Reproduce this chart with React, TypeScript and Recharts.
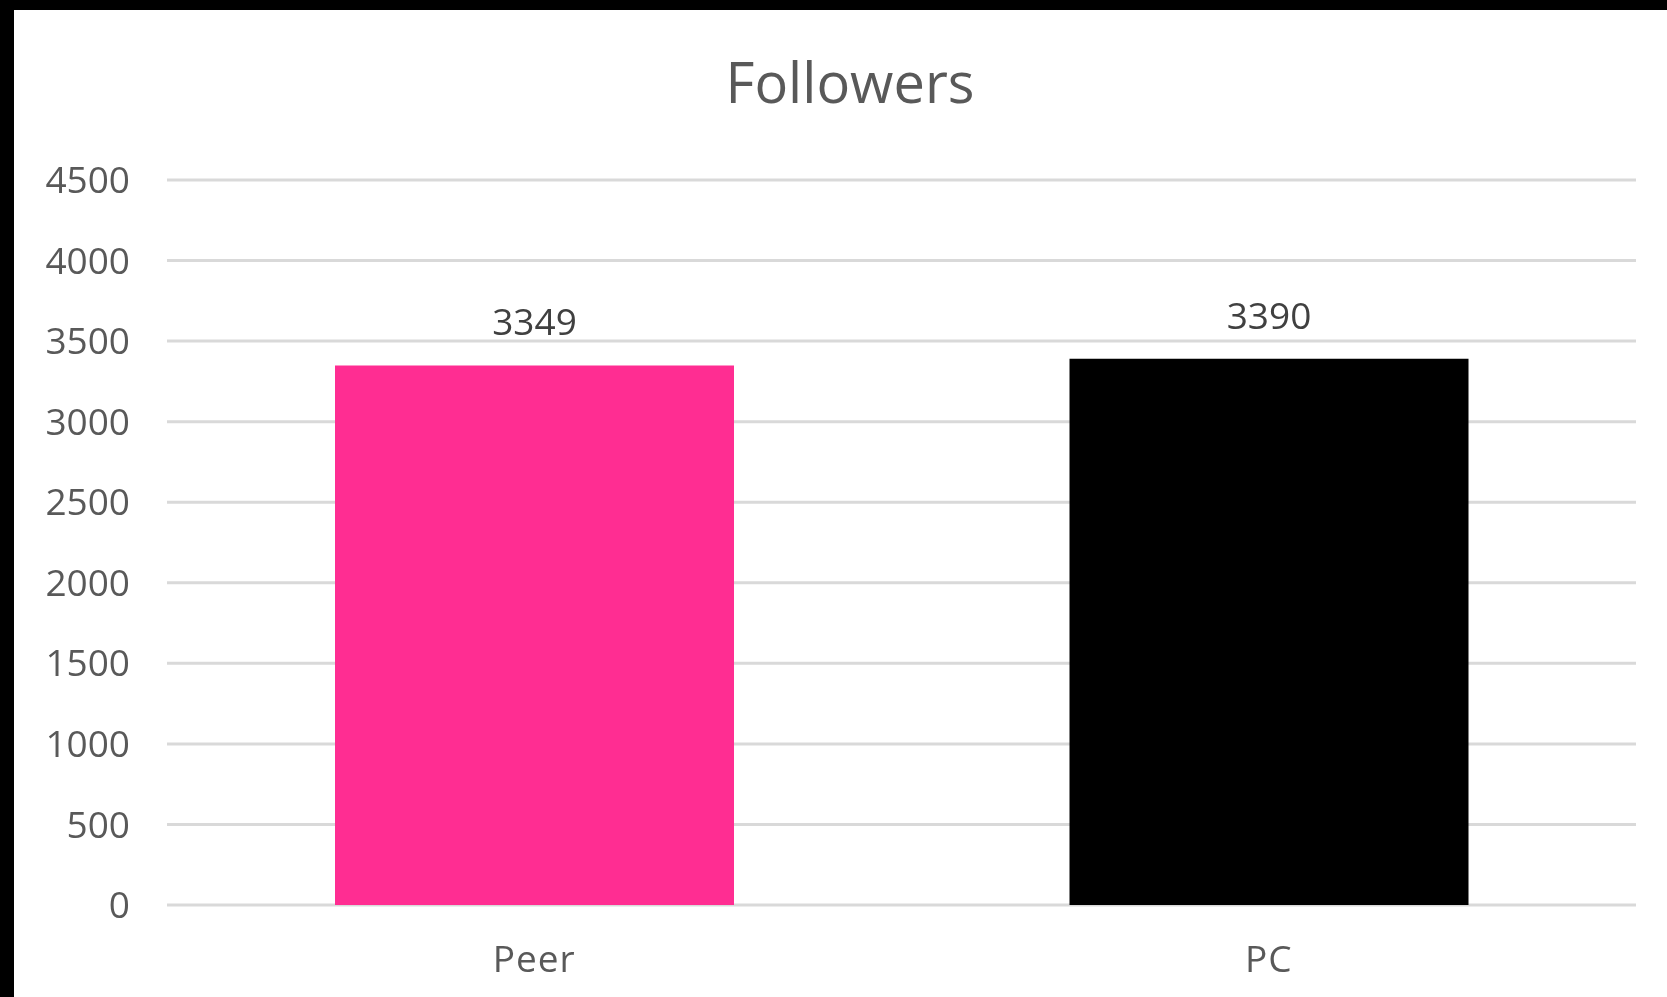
import React from 'react';
import { BarChart, Bar, XAxis, YAxis, CartesianGrid, Cell, LabelList } from 'recharts';

const categories = ['Peer', 'PC'];
const followers = [3349, 3390];
const barColors = ['#FF2D92', '#000000'];
const yTicks = [0, 500, 1000, 1500, 2000, 2500, 3000, 3500, 4000, 4500];

const data = categories.map((name, i) => ({ name, followers: followers[i] }));

const FONT = '"Open Sans", sans-serif';

export default function App() {
  return (
    <div style={{ position: 'fixed', left: 0, top: 0, width: 1667, height: 997, background: '#000' }}>
      <div style={{ position: 'absolute', left: 14, top: 10, width: 1653, height: 987, background: '#fff', fontFamily: FONT }}>
        <div
          style={{
            position: 'absolute',
            left: 0,
            width: 1672,
            top: 43,
            textAlign: 'center',
            fontSize: 56,
            lineHeight: 1,
            color: '#595959',
          }}
        >
          Followers
        </div>
        <BarChart
          width={1653}
          height={987}
          data={data}
          margin={{ top: 170, right: 31, left: 0, bottom: 0 }}
          style={{ fontFamily: FONT }}
        >
          <CartesianGrid vertical={false} stroke="#D9D9D9" strokeWidth={3} />
          <XAxis
            dataKey="name"
            height={92}
            axisLine={false}
            tickLine={false}
            tickSize={0}
            tickMargin={41}
            tick={{ fill: '#595959', fontSize: 37, letterSpacing: 1 }}
          />
          <YAxis
            width={153}
            domain={[0, 4500]}
            ticks={yTicks}
            axisLine={false}
            tickLine={false}
            tickSize={0}
            tickMargin={37}
            tick={{ fill: '#595959', fontSize: 37 }}
          />
          <Bar dataKey="followers" barSize={399} isAnimationActive={false}>
            {data.map((d, i) => (
              <Cell key={d.name} fill={barColors[i]} />
            ))}
            <LabelList dataKey="followers" position="top" offset={30} fill="#404040" fontSize={37} />
          </Bar>
        </BarChart>
      </div>
    </div>
  );
}
